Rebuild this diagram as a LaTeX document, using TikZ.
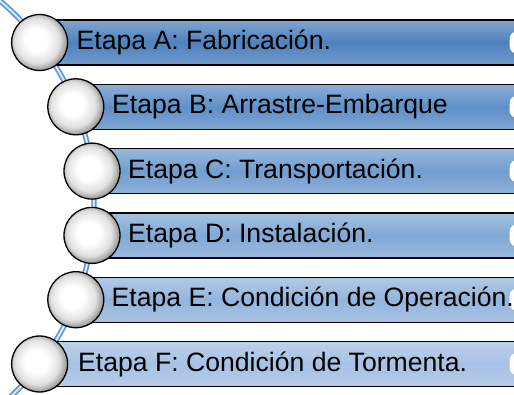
\documentclass[tikz,border=0pt]{standalone}
\usepackage{fontspec}
\setmainfont{Liberation Sans}
\pgfdeclareradialshading{ballshade}{\pgfpoint{-4bp}{3bp}}{color(0bp)=(white); color(10bp)=(white); color(20bp)=(black!12); color(25bp)=(black!35); color(30bp)=(black!60); color(50bp)=(black!60)}
\begin{document}
\begin{tikzpicture}[x=1pt,y=-1pt,
  bar/.style={draw=black, line width=1.3pt, rectangle, minimum height=45pt, minimum width=520pt, anchor=west, inner sep=0pt,
     top color=#1!72!white, bottom color=#1!80!white, middle color=#1},
  ball/.style={circle, draw=black, line width=1.3pt, minimum size=56pt, inner sep=0pt,
     shading=ballshade},
  lbl/.style={anchor=west, font=\fontsize{26.6}{31}\selectfont, text=black, inner sep=0pt},
  endcap/.style={rectangle, rounded corners=7pt, fill=white, minimum width=24pt, minimum height=22pt, anchor=west, inner sep=0pt},
  track/.style={draw={rgb,255:red,95;green,150;blue,210}, line width=1.7pt, double={rgb,255:red,215;green,232;blue,250}, double distance=2pt}
]
\definecolor{cA}{RGB}{79,129,189}
\definecolor{cB}{RGB}{96,143,200}
\definecolor{cC}{RGB}{113,157,207}
\definecolor{cD}{RGB}{129,169,213}
\definecolor{cE}{RGB}{147,181,220}
\definecolor{cF}{RGB}{165,193,228}
\useasboundingbox (0,0) rectangle (514,394);
\clip (0,0) rectangle (514,394);
% curved track
\draw[track] (-171.5,203.5) circle[radius=265.5pt];
% bars
\node[bar=cA] (barA) at (39.6,42.5) {};
\node[bar=cB] (barB) at (75.8,106.8) {};
\node[bar=cC] (barC) at (92,171.1) {};
\node[bar=cD] (barD) at (92,235.4) {};
\node[bar=cE] (barE) at (75.8,299.7) {};
\node[bar=cF] (barF) at (39.6,364) {};
% right-hand caps
\node[endcap] (capA) at (509.5,42.5) {};
\node[endcap] (capB) at (509.5,106.8) {};
\node[endcap] (capC) at (509.5,171.1) {};
\node[endcap] (capD) at (509.5,235.4) {};
\node[endcap] (capE) at (509.5,299.7) {};
\node[endcap] (capF) at (509.5,364) {};
% balls
\node[ball] (ballA) at (39.6,42.5) {};
\node[ball] (ballB) at (75.8,106.8) {};
\node[ball] (ballC) at (92,171.1) {};
\node[ball] (ballD) at (92,235.4) {};
\node[ball] (ballE) at (75.8,299.7) {};
\node[ball] (ballF) at (39.6,364) {};
% labels
\node[lbl] (tA) at (76.5,42.5) {Etapa A: Fabricación.};
\node[lbl] (tB) at (112,106.8) {Etapa B: Arrastre-Embarque};
\node[lbl] (tC) at (128,171.1) {Etapa C: Transportación.};
\node[lbl] (tD) at (128,235.4) {Etapa D: Instalación.};
\node[lbl] (tE) at (111.5,299.7) {Etapa E: Condición de Operación.};
\node[lbl] (tF) at (78,364) {Etapa F: Condición de Tormenta.};
\end{tikzpicture}
\end{document}
